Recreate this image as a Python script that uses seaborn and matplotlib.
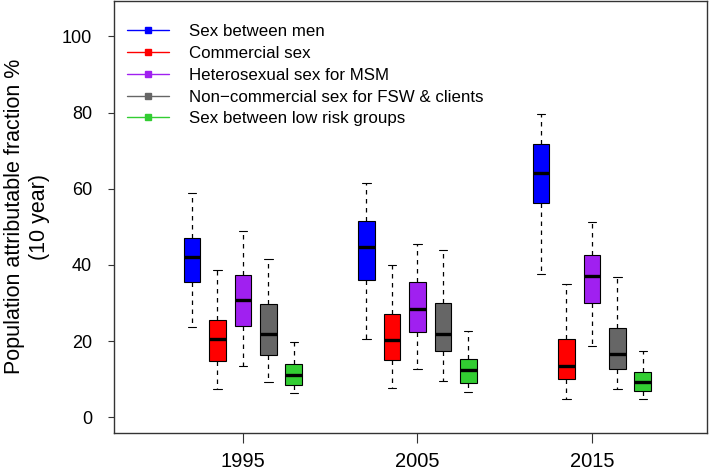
import numpy as np
import pandas as pd
import matplotlib
matplotlib.use('Agg')
import matplotlib.pyplot as plt
from matplotlib.lines import Line2D
import seaborn as sns

# population attributable fraction (10 year) by transmission route
years = ['1995', '2005', '2015']
routes = ['Sex between men', 'Commercial sex', 'Heterosexual sex for MSM',
          'Non\u2212commercial sex for FSW & clients', 'Sex between low risk groups']
colors = ['#0000FF', '#FF0000', '#A020F0', '#666666', '#32CD32']

# five-number summaries: [min, q1, median, q3, max]
sex_between_men = [[23.8, 35.4, 42.2, 47.2, 59.0],
                   [20.6, 36.0, 44.6, 51.5, 61.4],
                   [37.6, 56.3, 64.2, 71.7, 79.5]]
commercial_sex = [[7.5, 14.7, 20.5, 25.5, 38.7],
                  [7.6, 15.0, 20.3, 27.1, 40.0],
                  [4.9, 10.0, 13.6, 20.5, 35.1]]
hetero_msm = [[13.5, 23.9, 30.7, 37.3, 49.0],
              [12.8, 22.3, 28.5, 35.4, 45.5],
              [18.7, 29.9, 37.2, 42.7, 51.3]]
noncommercial_fsw = [[9.3, 16.4, 22.0, 29.7, 41.5],
                     [9.5, 17.4, 21.9, 30.0, 43.9],
                     [7.5, 12.8, 16.7, 23.4, 36.9]]
low_risk = [[6.3, 8.5, 11.0, 13.9, 19.8],
            [6.7, 9.1, 12.4, 15.3, 22.8],
            [4.9, 6.9, 9.2, 11.8, 17.3]]

summaries = [sex_between_men, commercial_sex, hetero_msm, noncommercial_fsw, low_risk]

rows = []
for route, per_year in zip(routes, summaries):
    for year, vals in zip(years, per_year):
        for v in vals:
            rows.append({'year': year, 'route': route, 'paf': v})
df = pd.DataFrame(rows)

sns.set_style('ticks')
plt.rcParams['font.family'] = ['Liberation Sans', 'DejaVu Sans']
plt.rcParams['text.color'] = 'black'
plt.rcParams['axes.labelcolor'] = 'black'

fig = plt.figure(figsize=(7.09, 4.74), dpi=100)
ax = fig.add_axes([0.161, 0.087, 0.836, 0.911])

sns.boxplot(data=df, x='year', y='paf', hue='route', order=years, hue_order=routes,
            palette=colors, saturation=1, width=0.73, gap=0.345, whis=(0, 100),
            linecolor='black', linewidth=0.8, legend=False, ax=ax,
            medianprops={'linewidth': 2.4, 'color': 'black', 'solid_capstyle': 'butt'},
            whiskerprops={'linestyle': (0, (3.6, 3.6)), 'linewidth': 0.9})

ax.set_xlim(-0.7376, 2.659)
ax.set_ylim(-4.04, 109.3)
ax.set_yticks([0, 20, 40, 60, 80, 100])
ax.set_xlabel('')
ax.set_ylabel('Population attributable fraction %\n(10 year)', fontsize=15.5, linespacing=1.25)
ax.yaxis.set_label_coords(-0.108, 0.5)

ax.tick_params(axis='y', labelsize=13, length=4, width=0.8, pad=12,
               color='#333333', labelcolor='black')
ax.tick_params(axis='x', labelsize=14.5, length=7, width=0.8, pad=7,
               color='#333333', labelcolor='black')
for s in ax.spines.values():
    s.set_visible(True)
    s.set_color('#333333')
    s.set_linewidth(1)

handles = [Line2D([0], [0], color=c, lw=1, marker='s', markersize=5) for c in colors]
ax.legend(handles, routes, loc='upper left', bbox_to_anchor=(0.022, 0.946),
          frameon=False, fontsize=12.2, handlelength=2.45, handletextpad=1.2,
          labelspacing=0.4, borderaxespad=0, borderpad=0)

fig.savefig('out.png', dpi=100)
